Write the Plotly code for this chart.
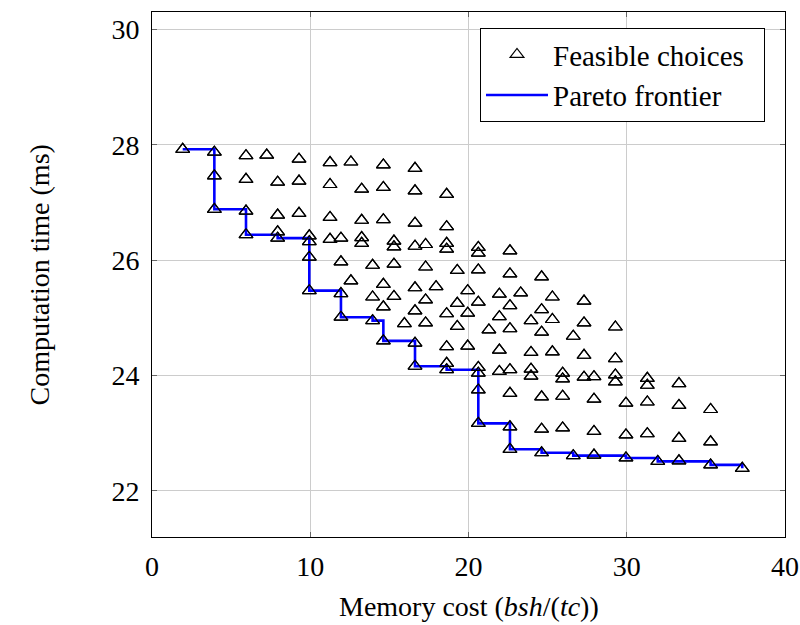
import plotly.graph_objects as go

# Feasible choices (memory cost, computation time)
feasible_x = [
    1.94,
    3.94, 3.94, 3.94,
    5.94, 5.94, 5.94, 5.94,
    7.25,
    7.94, 7.94, 7.94, 7.94,
    9.29, 9.29, 9.29,
    9.94, 9.94, 9.94, 9.94,
    11.25, 11.25, 11.25, 11.25,
    11.94, 11.94, 11.94, 11.94,
    12.57, 12.57,
    13.25, 13.25, 13.25, 13.25,
    13.94, 13.94, 13.94,
    14.62, 14.62, 14.62, 14.62, 14.62, 14.62,
    15.29, 15.29, 15.29, 15.29,
    15.95,
    16.62, 16.62, 16.62, 16.62, 16.62, 16.62, 16.62, 16.62,
    17.29, 17.29, 17.29, 17.29,
    17.95,
    18.62, 18.62, 18.62, 18.62, 18.62, 18.62, 18.62, 18.62,
    19.29, 19.29, 19.29,
    19.95, 19.95, 19.95,
    20.62, 20.62, 20.62, 20.62, 20.62, 20.62, 20.62, 20.62,
    21.29,
    21.95, 21.95, 21.95, 21.95,
    22.62, 22.62, 22.62, 22.62, 22.62, 22.62, 22.62, 22.62,
    23.30,
    23.95, 23.95, 23.95, 23.95,
    24.62, 24.62, 24.62, 24.62, 24.62, 24.62,
    25.30, 25.30, 25.30,
    25.95, 25.95, 25.95, 25.95,
    26.62, 26.62,
    27.30, 27.30, 27.30, 27.30,
    27.93, 27.93, 27.93, 27.93,
    29.28, 29.28, 29.28, 29.28,
    29.95, 29.95, 29.95,
    31.30, 31.30, 31.30, 31.30,
    31.96,
    33.30, 33.30, 33.30, 33.30,
    35.30, 35.30, 35.30,
    37.30,
]
feasible_y = [
    27.92,
    27.87, 27.46, 26.88,
    27.81, 27.40, 26.85, 26.44,
    27.82,
    27.35, 26.78, 26.49, 26.38,
    27.75, 27.37, 26.81,
    26.42, 26.32, 26.05, 25.47,
    27.69, 27.31, 26.74, 26.36,
    26.38, 25.97, 25.42, 25.01,
    27.70, 25.64,
    27.23, 26.69, 26.39, 26.29,
    25.91, 25.36, 24.95,
    27.65, 27.26, 26.70, 25.58, 25.19, 24.60,
    26.33, 26.23, 25.93, 25.37,
    24.90,
    27.59, 27.20, 26.64, 26.24, 25.52, 25.12, 24.56, 24.16,
    26.27, 25.88, 25.31, 24.91,
    25.54,
    27.14, 26.58, 26.29, 26.19, 25.07, 24.50, 24.21, 24.10,
    25.82, 25.25, 24.85,
    25.47, 25.08, 24.51,
    26.22, 26.12, 25.83, 25.27, 24.14, 24.04, 23.75, 23.17,
    24.79,
    25.41, 25.02, 24.44, 24.07,
    26.16, 25.76, 25.21, 24.81, 24.10, 23.69, 23.11, 22.72,
    25.43,
    24.95, 24.40, 24.11, 23.99,
    25.71, 25.14, 24.75, 23.63, 23.07, 22.66,
    25.36, 24.97, 24.41,
    24.04, 23.94, 23.64, 23.09,
    24.68, 22.61,
    25.29, 24.91, 24.35, 23.97,
    23.98, 23.59, 23.03, 22.62,
    24.84, 24.29, 24.01, 23.89,
    23.52, 22.97, 22.57,
    23.95, 23.83, 23.54, 22.99,
    22.51,
    23.86, 23.48, 22.91, 22.52,
    23.41, 22.85, 22.45,
    22.39,
]

# Pareto frontier vertices
pareto_x = [1.94, 3.94, 3.94, 3.94, 5.94, 7.94, 9.94, 9.94, 9.94, 11.94, 11.94,
            13.94, 14.62, 16.62, 16.62, 18.62, 20.62, 20.62, 20.62, 22.62, 22.62,
            24.62, 26.62, 29.95, 31.96, 35.30, 37.30]
pareto_y = [27.92, 27.87, 27.46, 26.88, 26.44, 26.38, 26.32, 26.05, 25.47, 25.42, 25.01,
            24.95, 24.60, 24.56, 24.16, 24.10, 24.04, 23.75, 23.17, 23.11, 22.72,
            22.66, 22.61, 22.57, 22.51, 22.45, 22.39]

x_ticks = [0, 10, 20, 30, 40]
y_ticks = [22, 24, 26, 28, 30]

FONT = '"Liberation Serif", "Times New Roman", Times, serif'
FS = 28

fig = go.Figure()
fig.add_trace(go.Scatter(
    x=feasible_x, y=feasible_y, mode="markers", name="Feasible choices\u2002",
    marker=dict(symbol="triangle-up-open", size=12, color="black",
                line=dict(width=1.2, color="black")),
))
fig.add_trace(go.Scatter(
    x=pareto_x, y=pareto_y, mode="lines", name="Pareto frontier",
    line=dict(color="#0000ff", width=2.6, shape="hv"),
))
# re-draw markers on top of the line
fig.add_trace(go.Scatter(
    x=feasible_x, y=feasible_y, mode="markers", showlegend=False,
    marker=dict(symbol="triangle-up-open", size=12, color="black",
                line=dict(width=1.2, color="black")),
    hoverinfo="skip",
))

axis_common = dict(
    showgrid=True, gridcolor="#cccccc", gridwidth=1,
    showline=True, linecolor="black", linewidth=1, mirror="ticks",
    ticks="inside", ticklen=5, tickcolor="#666666", tickwidth=1,
    zeroline=False, automargin=False,
    tickfont=dict(family=FONT, size=FS, color="black"),
)

fig.update_layout(
    width=800, height=625,
    margin=dict(l=152, r=15, t=12, b=88),
    paper_bgcolor="white", plot_bgcolor="white",
    font=dict(family=FONT, size=FS, color="black"),
    xaxis=dict(range=[0, 40], tickvals=x_ticks, ticktext=[str(v) for v in x_ticks],
               ticklabelstandoff=4, **axis_common),
    yaxis=dict(range=[21.2, 30.3], tickvals=y_ticks, ticktext=[str(v) for v in y_ticks],
               ticklabelstandoff=6, **axis_common),
    legend=dict(
        x=0.9684, y=0.9695, xanchor="right", yanchor="top",
        bgcolor="white", bordercolor="black", borderwidth=1,
        font=dict(family=FONT, size=29, color="black"),
        itemwidth=62, tracegroupgap=0,
    ),
    showlegend=True,
    annotations=[
        dict(text="Memory cost (<i>bsh</i>/(<i>tc</i>))", xref="paper", yref="paper",
             x=0.5, y=-0.133, xanchor="center", yanchor="middle", showarrow=False,
             font=dict(family=FONT, size=FS, color="black")),
        dict(text="Computation time (ms)", xref="paper", yref="paper",
             x=-0.177, y=0.5, xanchor="center", yanchor="middle", showarrow=False,
             textangle=-90, font=dict(family=FONT, size=FS, color="black")),
    ],
)

fig.write_html("out.html")
